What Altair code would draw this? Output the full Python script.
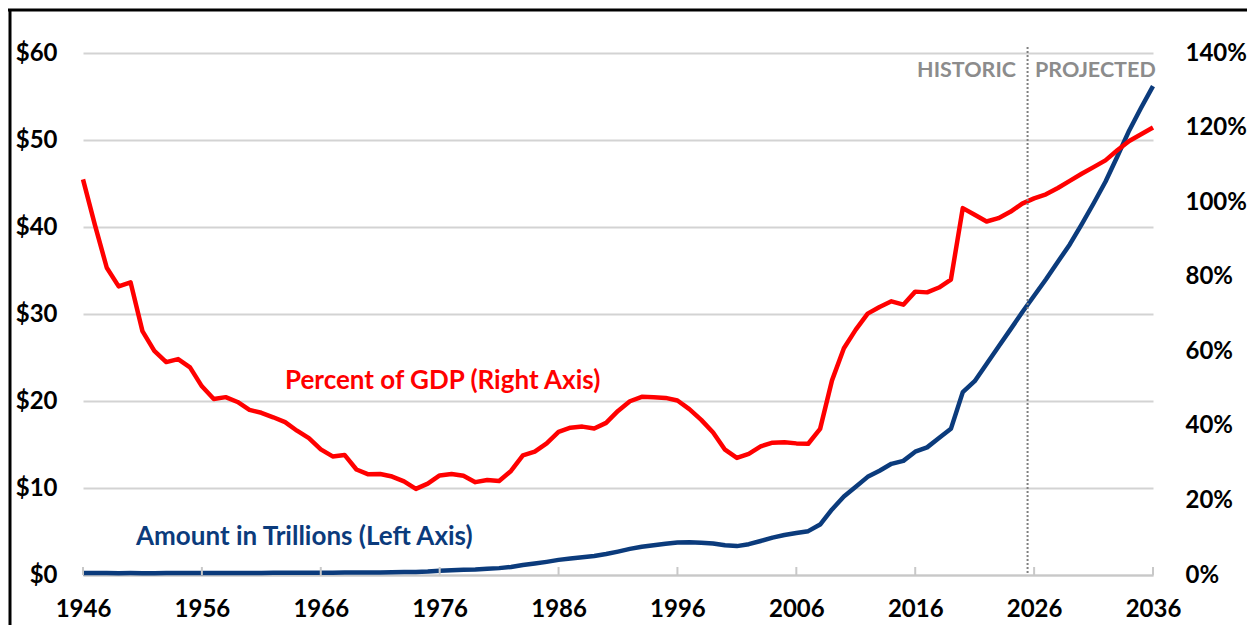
import altair as alt
import pandas as pd

years = list(range(1946, 2037))

amount_trillions = [
    0.24, 0.22, 0.22, 0.21, 0.22, 0.21, 0.21, 0.22, 0.22, 0.23,
    0.22, 0.22, 0.23, 0.23, 0.24, 0.24, 0.25, 0.25, 0.26, 0.26,
    0.26, 0.27, 0.29, 0.28, 0.28, 0.30, 0.32, 0.34, 0.34, 0.39,
    0.48, 0.55, 0.61, 0.64, 0.71, 0.79, 0.92, 1.14, 1.31, 1.51,
    1.74, 1.89, 2.05, 2.19, 2.41, 2.69, 3.00, 3.25, 3.43, 3.60,
    3.73, 3.77, 3.72, 3.63, 3.41, 3.32, 3.54, 3.91, 4.30, 4.59,
    4.83, 5.04, 5.80, 7.54, 9.02, 10.13, 11.28, 11.98, 12.78, 13.12,
    14.17, 14.67, 15.75, 16.80, 21.02, 22.28, 24.25, 26.24, 28.20, 30.20,
    32.10, 34.00, 36.00, 38.00, 40.30, 42.70, 45.20, 48.10, 51.10, 53.70,
    56.20,
]

percent_gdp = [
    106.1, 93.9, 82.4, 77.4, 78.5, 65.4, 60.1, 57.1, 57.9, 55.7,
    50.6, 47.2, 47.7, 46.4, 44.3, 43.5, 42.3, 41.0, 38.7, 36.7,
    33.7, 31.8, 32.2, 28.3, 27.0, 27.1, 26.4, 25.1, 23.1, 24.5,
    26.7, 27.1, 26.6, 24.9, 25.5, 25.2, 27.9, 32.1, 33.1, 35.3,
    38.4, 39.5, 39.8, 39.3, 40.8, 44.0, 46.6, 47.8, 47.7, 47.5,
    46.8, 44.5, 41.6, 38.2, 33.6, 31.4, 32.5, 34.5, 35.5, 35.6,
    35.3, 35.2, 39.2, 52.2, 60.8, 65.8, 70.1, 71.9, 73.4, 72.5,
    76.0, 75.8, 77.1, 79.2, 98.4, 96.6, 94.8, 95.7, 97.4, 99.6,
    101.0, 102.1, 103.8, 105.7, 107.6, 109.4, 111.2, 113.9, 116.4, 118.2,
    120.0,
]

x_ticks = [1946, 1956, 1966, 1976, 1986, 1996, 2006, 2016, 2026, 2036]
left_ticks = [0, 10, 20, 30, 40, 50, 60]
right_ticks = [0, 20, 40, 60, 80, 100, 120, 140]
divider_year = [2025.45]

W, H = 1070, 522
FONT = "Lato"
RED = "#FF0000"
BLUE = "#0B3B7C"

df = pd.DataFrame({"year": years, "amount": amount_trillions, "pct": percent_gdp})
ticks_df = pd.DataFrame({"year": x_ticks})
div_df = pd.DataFrame({"year": divider_year})

xscale = alt.Scale(domain=[1946, 2036], nice=False, zero=False)
xaxis = alt.Axis(values=x_ticks, format="d", grid=False, ticks=False,
                 domainColor="#C8C8C8", domainWidth=2, labelPadding=22,
                 labelFlush=False, title=None)
X = alt.X("year:Q", scale=xscale, axis=xaxis)

blue = alt.Chart(df).mark_line(color=BLUE, strokeWidth=4.5, strokeJoin="round").encode(
    x=X,
    y=alt.Y("amount:Q", scale=alt.Scale(domain=[0, 60], nice=False),
            axis=alt.Axis(orient="left", values=left_ticks, labelExpr="'$' + datum.value",
                          grid=True, gridColor="#D3D3D3", gridWidth=2, domain=False,
                          ticks=False, labelPadding=26, title=None)),
)

red = alt.Chart(df).mark_line(color=RED, strokeWidth=4.5, strokeJoin="round").encode(
    x=X,
    y=alt.Y("pct:Q", scale=alt.Scale(domain=[0, 140], nice=False),
            axis=alt.Axis(orient="right", values=right_ticks, labelExpr="datum.value + '%'",
                          grid=False, domain=False, ticks=False, labelPadding=32, title=None)),
)

tick_marks = alt.Chart(ticks_df).mark_rule(color="#C8C8C8", strokeWidth=2).encode(
    x=X,
    y=alt.value(H - 8), y2=alt.value(H),
)

divider = alt.Chart(div_df).mark_rule(color="#808080", strokeWidth=2, strokeDash=[2, 2]).encode(
    x=X,
    y=alt.value(-6), y2=alt.value(H),
)

def label(text, x, y, color, size, align="left"):
    return alt.Chart(pd.DataFrame({"t": [text]})).mark_text(
        font=FONT, fontWeight="bold", fontSize=size, color=color, align=align, baseline="middle"
    ).encode(text="t:N", x=alt.value(x), y=alt.value(y))

lbl_pct = label("Percent of GDP (Right Axis)", 202, 328, RED, 26)
lbl_amt = label("Amount in Trillions (Left Axis)", 53, 484, BLUE, 26)
lbl_hist = label("HISTORIC", 933, 18, "#8C8C8C", 21.5, "right")
lbl_proj = label("PROJECTED", 952, 18, "#8C8C8C", 21.5, "left")

frame_top = alt.Chart(pd.DataFrame({"a": [0]})).mark_rule(color="#000000", strokeWidth=3).encode(
    x=alt.value(-75), x2=alt.value(1200), y=alt.value(-43))
frame_left = alt.Chart(pd.DataFrame({"a": [0]})).mark_rule(color="#000000", strokeWidth=3).encode(
    x=alt.value(-73), y=alt.value(-44), y2=alt.value(600))

chart = alt.layer(
    blue, red, tick_marks, divider, lbl_pct, lbl_amt, lbl_hist, lbl_proj, frame_top, frame_left
).resolve_scale(y="independent").properties(
    width=W, height=H,
    background="white",
    autosize=alt.AutoSizeParams(type="none"),
    padding={"left": 75, "top": 45, "right": 94, "bottom": 50},
).configure_view(stroke=None).configure_axis(
    labelFont=FONT, labelFontWeight="bold", labelFontSize=24, labelColor="#000000"
)

chart.save("out.html", embed_options={"renderer": "svg", "actions": False})
